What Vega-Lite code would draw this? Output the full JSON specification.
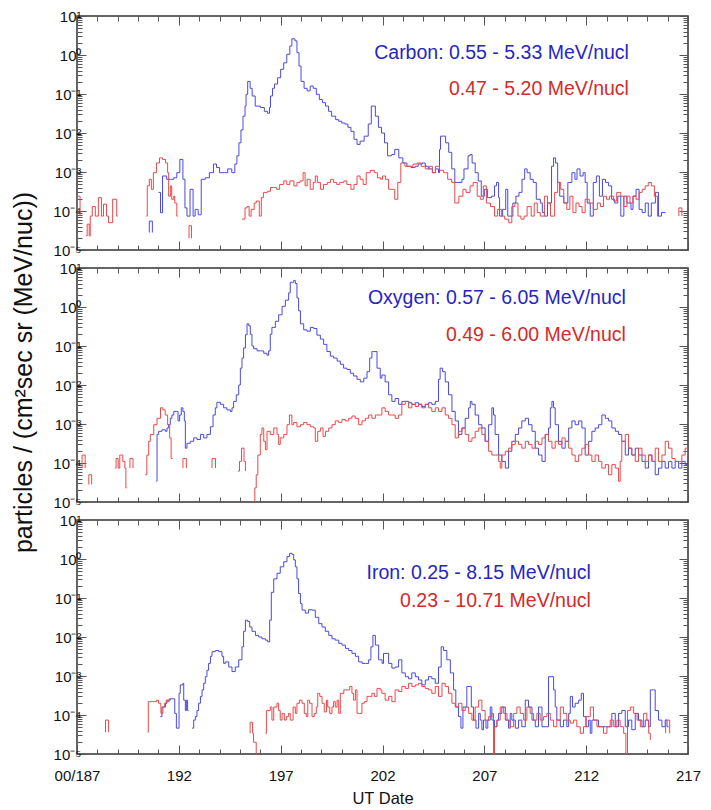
{
  "$schema": "https://vega.github.io/schema/vega-lite/v6.json",
  "background": "white",
  "padding": {"left": 11, "top": 8, "right": 0, "bottom": 0},
  "spacing": 18,
  "bounds": "flush",
  "config": {
    "view": {"stroke": "#333", "strokeWidth": 1.5},
    "axis": {
      "domain": false,
      "grid": false,
      "tickColor": "#555",
      "tickWidth": 1,
      "labelFont": "Liberation Sans",
      "labelColor": "#111",
      "titleFont": "Liberation Sans",
      "titleColor": "#111",
      "titleFontWeight": "normal",
      "labelOverlap": false,
      "labelFlush": false,
      "labelBound": false
    },
    "axisX": {
      "labelFontSize": 15,
      "labelPadding": 23,
      "labelOverlap": false,
      "titleFontSize": 16.5,
      "titlePadding": 7
    },
    "axisY": {
      "values": [0.00001,0.00002,0.00003,0.00004,0.00005,0.00006,0.00007,0.00008,0.00009,0.0001,0.0002,0.0003,0.0004,0.0005,0.0006,0.0007,0.0008,0.0009,0.001,0.002,0.003,0.004,0.005,0.006,0.007,0.008,0.009,0.01,0.02,0.03,0.04,0.05,0.06,0.07,0.08,0.09,0.1,0.2,0.3,0.4,0.5,0.6,0.7,0.8,0.9,1,2,3,4,5,6,7,8,9,10],
      "tickSize": {"condition": {"test": "abs(log(datum.value) / LN10 - round(log(datum.value) / LN10)) < 0.000001", "value": -9}, "value": -5},
      "labelFontSize": 15,
      "labelPadding": 5,
      "labelOverlap": false,
      "labelExpr": "datum.value == 10 ? '10¹' : datum.value == 1 ? '10⁰' : datum.value == 0.1 ? '10⁻¹' : datum.value == 0.01 ? '10⁻²' : datum.value == 0.001 ? '10⁻³' : datum.value == 0.0001 ? '10⁻⁴' : datum.value == 0.00001 ? '10⁻⁵' : ''",
      "titleFontSize": 25,
      "titlePadding": 16
    },
    "line": {"strokeWidth": 1, "interpolate": "step-after", "clip": true, "invalid": "break-paths-filter-domains"},
    "text": {"font": "Liberation Sans", "fontSize": 19.5, "align": "right", "baseline": "alphabetic"}
  },
  "datasets": {
    "carbon_a": [
      {"day":190.55,"flux":2.8e-5},{"day":190.55,"flux":5.5e-5},{"day":190.7,"flux":2.8e-5},{"day":190.8,"flux":null},
      {"day":191.0,"flux":3.0e-4},{"day":191.1,"flux":9e-5},{"day":191.2,"flux":7.9e-4},{"day":191.4,"flux":6.5e-4},{"day":191.6,"flux":6.5e-4},{"day":191.75,"flux":7.1e-4},{"day":191.9,"flux":9.6e-4},{"day":192.05,"flux":2.1e-3},{"day":192.2,"flux":6.5e-4},{"day":192.3,"flux":1.2e-4},{"day":192.4,"flux":7.4e-5},{"day":192.55,"flux":3.6e-4},{"day":192.7,"flux":7.4e-5},{"day":192.8,"flux":1.1e-4},{"day":192.95,"flux":8e-5},{"day":193.1,"flux":6.5e-4},{"day":193.3,"flux":7.1e-4},{"day":193.5,"flux":9.6e-4},{"day":193.7,"flux":1.6e-3},{"day":193.85,"flux":1.3e-3},{"day":194.0,"flux":9.6e-4},{"day":194.25,"flux":9.6e-4},{"day":194.4,"flux":1.2e-3},{"day":194.6,"flux":9.6e-4},{"day":194.75,"flux":1.6e-3},{"day":194.85,"flux":2.6e-3},{"day":194.95,"flux":5.6e-3},{"day":195.05,"flux":0.012},{"day":195.15,"flux":0.027},{"day":195.25,"flux":0.049},{"day":195.3,"flux":0.098},{"day":195.38,"flux":0.21},{"day":195.5,"flux":0.14},{"day":195.6,"flux":0.089},{"day":195.75,"flux":0.049},{"day":196.0,"flux":0.045},{"day":196.2,"flux":0.036},{"day":196.35,"flux":0.032},{"day":196.45,"flux":0.045},{"day":196.5,"flux":0.089},{"day":196.6,"flux":0.14},{"day":196.7,"flux":0.18},{"day":196.85,"flux":0.26},{"day":197.0,"flux":0.43},{"day":197.15,"flux":0.63},{"day":197.3,"flux":1.04},{"day":197.45,"flux":1.7},{"day":197.55,"flux":2.6},{"day":197.7,"flux":2.3},{"day":197.8,"flux":1.15},{"day":197.9,"flux":0.52},{"day":198.0,"flux":0.21},{"day":198.15,"flux":0.14},{"day":198.3,"flux":0.12},{"day":198.45,"flux":0.16},{"day":198.6,"flux":0.14},{"day":198.75,"flux":0.098},{"day":198.9,"flux":0.072},{"day":199.05,"flux":0.06},{"day":199.2,"flux":0.049},{"day":199.35,"flux":0.036},{"day":199.5,"flux":0.027},{"day":199.7,"flux":0.022},{"day":199.85,"flux":0.02},{"day":200.0,"flux":0.018},{"day":200.15,"flux":0.017},{"day":200.3,"flux":0.014},{"day":200.45,"flux":0.011},{"day":200.6,"flux":0.0069},{"day":200.75,"flux":0.0051},{"day":200.9,"flux":0.0062},{"day":201.1,"flux":0.0083},{"day":201.3,"flux":0.017},{"day":201.45,"flux":0.049},{"day":201.55,"flux":0.049},{"day":201.65,"flux":0.027},{"day":201.8,"flux":0.014},{"day":201.95,"flux":0.01},{"day":202.1,"flux":0.0056},{"day":202.25,"flux":0.0026},{"day":202.45,"flux":0.0028},{"day":202.6,"flux":0.0038},{"day":202.8,"flux":0.0023},{"day":203.0,"flux":0.0017},{"day":203.2,"flux":0.0014},{"day":203.4,"flux":0.0013},{"day":203.6,"flux":0.0014},{"day":203.75,"flux":0.0016},{"day":203.95,"flux":0.0017},{"day":204.1,"flux":0.0014},{"day":204.25,"flux":0.0012},{"day":204.45,"flux":9.6e-4},{"day":204.6,"flux":0.0012},{"day":204.75,"flux":9.6e-4},{"day":204.8,"flux":0.0038},{"day":204.85,"flux":0.0083},{"day":205.0,"flux":0.0083},{"day":205.1,"flux":0.0056},{"day":205.25,"flux":0.0032},{"day":205.4,"flux":0.0012},{"day":205.55,"flux":5.4e-4},{"day":205.75,"flux":5.4e-4},{"day":205.9,"flux":6.5e-4},{"day":206.0,"flux":0.0012},{"day":206.2,"flux":0.0026},{"day":206.3,"flux":0.0028},{"day":206.4,"flux":0.0017},{"day":206.55,"flux":9.6e-4},{"day":206.7,"flux":5.9e-4},{"day":206.85,"flux":2.4e-4},{"day":207.0,"flux":3.6e-4},{"day":207.15,"flux":2.2e-4},{"day":207.35,"flux":2.4e-4},{"day":207.5,"flux":4.4e-4},{"day":207.6,"flux":5.4e-4},{"day":207.7,"flux":2.2e-4},{"day":207.75,"flux":7.4e-5},{"day":207.9,"flux":1.1e-4},{"day":208.05,"flux":3.6e-4},{"day":208.15,"flux":7.4e-5},{"day":208.4,"flux":1.6e-4},{"day":208.55,"flux":2.4e-4},{"day":208.7,"flux":3.0e-4},{"day":208.85,"flux":6.5e-4},{"day":208.98,"flux":0.0012},{"day":209.1,"flux":9.6e-4},{"day":209.25,"flux":6.5e-4},{"day":209.4,"flux":5.4e-4},{"day":209.55,"flux":2.0e-4},{"day":209.75,"flux":1.6e-4},{"day":209.85,"flux":9.1e-5},{"day":209.95,"flux":7.4e-5},{"day":210.1,"flux":1.6e-4},{"day":210.3,"flux":0.0014},{"day":210.4,"flux":0.0023},{"day":210.5,"flux":0.0017},{"day":210.6,"flux":5.4e-4},{"day":210.7,"flux":2.4e-4},{"day":210.9,"flux":1.6e-4},{"day":211.1,"flux":5.4e-4},{"day":211.3,"flux":9.6e-4},{"day":211.45,"flux":6.5e-4},{"day":211.55,"flux":0.0012},{"day":211.7,"flux":7.9e-4},{"day":211.85,"flux":9.6e-4},{"day":211.95,"flux":5.4e-4},{"day":212.05,"flux":1.6e-4},{"day":212.2,"flux":7.4e-5},{"day":212.35,"flux":5.4e-4},{"day":212.5,"flux":7.9e-4},{"day":212.65,"flux":2.4e-4},{"day":212.8,"flux":6.5e-4},{"day":212.95,"flux":5.4e-4},{"day":213.1,"flux":4.4e-4},{"day":213.25,"flux":2.0e-4},{"day":213.4,"flux":1.6e-4},{"day":213.55,"flux":2.4e-4},{"day":213.7,"flux":7.4e-5},{"day":213.85,"flux":2.4e-4},{"day":214.0,"flux":1.6e-4},{"day":214.2,"flux":1.1e-4},{"day":214.3,"flux":2.4e-4},{"day":214.45,"flux":3.6e-4},{"day":214.6,"flux":1.1e-4},{"day":214.75,"flux":9.1e-5},{"day":214.9,"flux":1.6e-4},{"day":215.05,"flux":7.4e-5},{"day":215.2,"flux":1.6e-4},{"day":215.4,"flux":3.0e-4},{"day":215.55,"flux":7.4e-5},{"day":215.7,"flux":9.1e-5},{"day":215.9,"flux":9.1e-5}
    ],
    "carbon_b": [
      {"day":187.0,"flux":7.4e-5},{"day":187.0,"flux":2.4e-4},{"day":187.15,"flux":7.4e-5},{"day":187.2,"flux":null},
      {"day":187.45,"flux":2.3e-5},{"day":187.5,"flux":4.6e-5},{"day":187.6,"flux":2.3e-5},{"day":187.65,"flux":7.4e-5},{"day":187.75,"flux":1.3e-4},{"day":187.9,"flux":7.4e-5},{"day":188.05,"flux":2.2e-4},{"day":188.2,"flux":7.4e-5},{"day":188.3,"flux":1.5e-4},{"day":188.45,"flux":7.4e-5},{"day":188.55,"flux":5.0e-5},{"day":188.75,"flux":2.0e-4},{"day":188.95,"flux":7.4e-5},{"day":189.0,"flux":7.4e-5},{"day":189.05,"flux":null},
      {"day":190.4,"flux":7.4e-5},{"day":190.45,"flux":4.4e-4},{"day":190.55,"flux":6.5e-4},{"day":190.65,"flux":3.6e-4},{"day":190.75,"flux":9.6e-4},{"day":190.9,"flux":1.7e-3},{"day":191.05,"flux":2.3e-3},{"day":191.2,"flux":2.1e-3},{"day":191.35,"flux":1.7e-3},{"day":191.45,"flux":9.6e-4},{"day":191.5,"flux":2.4e-4},{"day":191.6,"flux":4.4e-4},{"day":191.65,"flux":2.0e-4},{"day":191.75,"flux":2.4e-4},{"day":191.8,"flux":1.6e-4},{"day":191.9,"flux":7.4e-5},{"day":191.95,"flux":7.4e-5},{"day":192.0,"flux":null},
      {"day":192.5,"flux":2.0e-5},{"day":192.5,"flux":4.2e-5},{"day":192.62,"flux":2.0e-5},{"day":192.7,"flux":null},
      {"day":195.1,"flux":6.2e-5},{"day":195.25,"flux":1.2e-4},{"day":195.35,"flux":1.3e-4},{"day":195.45,"flux":7.4e-5},{"day":195.55,"flux":1.1e-4},{"day":195.7,"flux":1.6e-4},{"day":195.8,"flux":1.8e-4},{"day":195.95,"flux":7.4e-5},{"day":196.05,"flux":2.2e-4},{"day":196.15,"flux":3.0e-4},{"day":196.35,"flux":3.2e-4},{"day":196.5,"flux":4.0e-4},{"day":196.65,"flux":4.0e-4},{"day":196.8,"flux":3.6e-4},{"day":196.95,"flux":4.8e-4},{"day":197.15,"flux":5.9e-4},{"day":197.3,"flux":4.8e-4},{"day":197.45,"flux":5.9e-4},{"day":197.65,"flux":4.4e-4},{"day":197.8,"flux":5.4e-4},{"day":197.95,"flux":5.9e-4},{"day":198.1,"flux":9.6e-4},{"day":198.2,"flux":4.4e-4},{"day":198.3,"flux":6.5e-4},{"day":198.45,"flux":3.6e-4},{"day":198.6,"flux":5.4e-4},{"day":198.7,"flux":7.9e-4},{"day":198.8,"flux":5.4e-4},{"day":198.95,"flux":3.6e-4},{"day":199.1,"flux":4.8e-4},{"day":199.3,"flux":5.4e-4},{"day":199.45,"flux":6.5e-4},{"day":199.6,"flux":5.4e-4},{"day":199.75,"flux":4.8e-4},{"day":199.9,"flux":5.4e-4},{"day":200.1,"flux":5.9e-4},{"day":200.25,"flux":4.8e-4},{"day":200.45,"flux":3.6e-4},{"day":200.6,"flux":4.8e-4},{"day":200.75,"flux":7.9e-4},{"day":200.9,"flux":6.5e-4},{"day":201.05,"flux":4.8e-4},{"day":201.2,"flux":9.6e-4},{"day":201.4,"flux":1.1e-3},{"day":201.6,"flux":9.6e-4},{"day":201.75,"flux":7.1e-4},{"day":201.9,"flux":6.5e-4},{"day":202.0,"flux":7.9e-4},{"day":202.15,"flux":6.5e-4},{"day":202.3,"flux":3.6e-4},{"day":202.6,"flux":2.0e-4},{"day":202.75,"flux":5.4e-4},{"day":202.9,"flux":1.7e-3},{"day":203.1,"flux":1.4e-3},{"day":203.3,"flux":1.4e-3},{"day":203.5,"flux":1.6e-3},{"day":203.7,"flux":1.7e-3},{"day":203.9,"flux":1.4e-3},{"day":204.1,"flux":1.2e-3},{"day":204.3,"flux":1.4e-3},{"day":204.45,"flux":9.6e-4},{"day":204.6,"flux":1.4e-3},{"day":204.8,"flux":1.1e-3},{"day":205.0,"flux":9.6e-4},{"day":205.2,"flux":6.5e-4},{"day":205.4,"flux":5.4e-4},{"day":205.55,"flux":1.6e-4},{"day":205.75,"flux":2.4e-4},{"day":205.95,"flux":3.6e-4},{"day":206.1,"flux":3.0e-4},{"day":206.3,"flux":4.4e-4},{"day":206.45,"flux":5.4e-4},{"day":206.65,"flux":2.4e-4},{"day":206.8,"flux":2.0e-4},{"day":206.95,"flux":4.4e-4},{"day":207.1,"flux":1.6e-4},{"day":207.3,"flux":1.3e-4},{"day":207.5,"flux":7.4e-5},{"day":207.65,"flux":1.1e-4},{"day":207.85,"flux":7.4e-5},{"day":208.0,"flux":6.2e-5},{"day":208.2,"flux":5.0e-5},{"day":208.35,"flux":1.3e-4},{"day":208.5,"flux":1.6e-4},{"day":208.65,"flux":7.4e-5},{"day":208.8,"flux":6.2e-5},{"day":208.95,"flux":7.4e-5},{"day":209.1,"flux":1.3e-4},{"day":209.3,"flux":7.4e-5},{"day":209.45,"flux":1.6e-4},{"day":209.6,"flux":9.1e-5},{"day":209.75,"flux":7.4e-5},{"day":209.95,"flux":2.4e-4},{"day":210.1,"flux":1.6e-4},{"day":210.25,"flux":7.4e-5},{"day":210.45,"flux":3.0e-4},{"day":210.6,"flux":5.4e-4},{"day":210.75,"flux":3.6e-4},{"day":210.9,"flux":1.6e-4},{"day":211.05,"flux":1.1e-4},{"day":211.2,"flux":2.4e-4},{"day":211.35,"flux":9.1e-5},{"day":211.5,"flux":1.6e-4},{"day":211.65,"flux":1.3e-4},{"day":211.8,"flux":9.1e-5},{"day":211.95,"flux":2.0e-4},{"day":212.15,"flux":1.6e-4},{"day":212.35,"flux":1.1e-4},{"day":212.55,"flux":1.6e-4},{"day":212.7,"flux":1.3e-4},{"day":212.85,"flux":2.4e-4},{"day":213.0,"flux":2.0e-4},{"day":213.15,"flux":2.4e-4},{"day":213.35,"flux":1.8e-4},{"day":213.5,"flux":3.0e-4},{"day":213.7,"flux":2.4e-4},{"day":213.85,"flux":1.3e-4},{"day":214.0,"flux":2.4e-4},{"day":214.15,"flux":1.6e-4},{"day":214.3,"flux":2.4e-4},{"day":214.45,"flux":2.0e-4},{"day":214.6,"flux":3.0e-4},{"day":214.75,"flux":3.6e-4},{"day":214.9,"flux":4.4e-4},{"day":215.05,"flux":5.4e-4},{"day":215.2,"flux":4.4e-4},{"day":215.35,"flux":2.4e-4},{"day":215.5,"flux":7.4e-5},{"day":215.55,"flux":7.4e-5},{"day":215.6,"flux":null},
      {"day":216.55,"flux":7.4e-5},{"day":216.55,"flux":1.2e-4},{"day":216.7,"flux":7.4e-5}
    ],
    "oxygen_a": [
      {"day":190.9,"flux":3.4e-5},{"day":190.93,"flux":5.4e-4},{"day":191.01,"flux":6.5e-4},{"day":191.17,"flux":7.1e-4},{"day":191.34,"flux":6.5e-4},{"day":191.42,"flux":7.9e-4},{"day":191.5,"flux":9.6e-4},{"day":191.58,"flux":1.4e-3},{"day":191.66,"flux":1.7e-3},{"day":191.75,"flux":2.1e-3},{"day":191.88,"flux":2.1e-3},{"day":191.96,"flux":1.2e-3},{"day":192.04,"flux":1.7e-3},{"day":192.12,"flux":2.6e-3},{"day":192.2,"flux":2.1e-3},{"day":192.27,"flux":1.2e-3},{"day":192.32,"flux":2.4e-4},{"day":192.4,"flux":3.2e-4},{"day":192.56,"flux":3.6e-4},{"day":192.73,"flux":4.4e-4},{"day":192.89,"flux":4.0e-4},{"day":193.06,"flux":5.4e-4},{"day":193.22,"flux":4.4e-4},{"day":193.38,"flux":5.4e-4},{"day":193.55,"flux":8.5e-4},{"day":193.68,"flux":1.7e-3},{"day":193.79,"flux":2.6e-3},{"day":193.87,"flux":3.6e-3},{"day":194.04,"flux":3.2e-3},{"day":194.2,"flux":2.6e-3},{"day":194.36,"flux":2.3e-3},{"day":194.53,"flux":2.1e-3},{"day":194.61,"flux":2.6e-3},{"day":194.69,"flux":3.8e-3},{"day":194.82,"flux":5.6e-3},{"day":194.94,"flux":0.01},{"day":195.02,"flux":0.027},{"day":195.1,"flux":0.049},{"day":195.18,"flux":0.089},{"day":195.27,"flux":0.195},{"day":195.35,"flux":0.37},{"day":195.43,"flux":0.33},{"day":195.51,"flux":0.2},{"day":195.59,"flux":0.1},{"day":195.67,"flux":0.085},{"day":195.84,"flux":0.075},{"day":196.0,"flux":0.075},{"day":196.17,"flux":0.065},{"day":196.33,"flux":0.058},{"day":196.41,"flux":0.075},{"day":196.49,"flux":0.2},{"day":196.57,"flux":0.3},{"day":196.74,"flux":0.43},{"day":196.9,"flux":0.63},{"day":197.07,"flux":1.04},{"day":197.23,"flux":1.5},{"day":197.39,"flux":2.3},{"day":197.47,"flux":4.3},{"day":197.64,"flux":4.8},{"day":197.72,"flux":4.0},{"day":197.8,"flux":1.7},{"day":197.88,"flux":0.8},{"day":197.97,"flux":0.37},{"day":198.13,"flux":0.26},{"day":198.29,"flux":0.24},{"day":198.46,"flux":0.3},{"day":198.62,"flux":0.28},{"day":198.78,"flux":0.19},{"day":198.95,"flux":0.15},{"day":199.11,"flux":0.11},{"day":199.27,"flux":0.072},{"day":199.44,"flux":0.055},{"day":199.6,"flux":0.049},{"day":199.77,"flux":0.041},{"day":199.93,"flux":0.034},{"day":200.09,"flux":0.027},{"day":200.26,"flux":0.025},{"day":200.42,"flux":0.02},{"day":200.58,"flux":0.017},{"day":200.75,"flux":0.014},{"day":200.91,"flux":0.012},{"day":201.08,"flux":0.015},{"day":201.24,"flux":0.022},{"day":201.37,"flux":0.049},{"day":201.48,"flux":0.072},{"day":201.57,"flux":0.072},{"day":201.73,"flux":0.027},{"day":201.89,"flux":0.015},{"day":201.97,"flux":0.018},{"day":202.13,"flux":0.012},{"day":202.3,"flux":0.0056},{"day":202.46,"flux":0.0038},{"day":202.62,"flux":0.0045},{"day":202.79,"flux":0.0032},{"day":202.95,"flux":0.0038},{"day":203.12,"flux":0.0038},{"day":203.28,"flux":0.0035},{"day":203.44,"flux":0.0032},{"day":203.61,"flux":0.0035},{"day":203.77,"flux":0.0032},{"day":203.93,"flux":0.0028},{"day":204.1,"flux":0.0032},{"day":204.26,"flux":0.0035},{"day":204.42,"flux":0.0032},{"day":204.59,"flux":0.0038},{"day":204.75,"flux":0.014},{"day":204.83,"flux":0.027},{"day":204.95,"flux":0.022},{"day":205.08,"flux":0.012},{"day":205.24,"flux":0.0056},{"day":205.41,"flux":0.0021},{"day":205.57,"flux":0.0012},{"day":205.73,"flux":5.4e-4},{"day":205.9,"flux":7.9e-4},{"day":206.06,"flux":0.0014},{"day":206.23,"flux":0.0026},{"day":206.31,"flux":0.0038},{"day":206.39,"flux":0.0032},{"day":206.55,"flux":0.0017},{"day":206.72,"flux":9.6e-4},{"day":206.88,"flux":7.9e-4},{"day":207.04,"flux":3.6e-4},{"day":207.21,"flux":9.6e-4},{"day":207.37,"flux":0.0026},{"day":207.45,"flux":0.0017},{"day":207.53,"flux":5.4e-4},{"day":207.7,"flux":1.6e-4},{"day":207.86,"flux":1.1e-4},{"day":208.03,"flux":7.4e-5},{"day":208.19,"flux":2.0e-4},{"day":208.35,"flux":3.6e-4},{"day":208.52,"flux":5.4e-4},{"day":208.68,"flux":7.9e-4},{"day":208.84,"flux":0.0012},{"day":209.01,"flux":0.0014},{"day":209.17,"flux":9.6e-4},{"day":209.34,"flux":6.5e-4},{"day":209.5,"flux":2.4e-4},{"day":209.66,"flux":1.6e-4},{"day":209.83,"flux":1.1e-4},{"day":209.99,"flux":5.4e-4},{"day":210.15,"flux":7.9e-4},{"day":210.24,"flux":0.0026},{"day":210.32,"flux":0.0038},{"day":210.4,"flux":0.0026},{"day":210.48,"flux":9.6e-4},{"day":210.64,"flux":3.6e-4},{"day":210.81,"flux":2.4e-4},{"day":210.97,"flux":3.6e-4},{"day":211.14,"flux":7.9e-4},{"day":211.3,"flux":0.0012},{"day":211.46,"flux":9.6e-4},{"day":211.63,"flux":0.0012},{"day":211.79,"flux":7.9e-4},{"day":211.95,"flux":1.6e-4},{"day":212.12,"flux":3.6e-4},{"day":212.28,"flux":6.5e-4},{"day":212.44,"flux":7.9e-4},{"day":212.61,"flux":9.6e-4},{"day":212.77,"flux":0.0017},{"day":212.94,"flux":0.0014},{"day":213.1,"flux":0.0012},{"day":213.26,"flux":7.9e-4},{"day":213.43,"flux":6.5e-4},{"day":213.59,"flux":5.4e-4},{"day":213.75,"flux":3.6e-4},{"day":213.92,"flux":1.6e-4},{"day":214.08,"flux":2.4e-4},{"day":214.24,"flux":1.6e-4},{"day":214.41,"flux":2.4e-4},{"day":214.57,"flux":1.6e-4},{"day":214.74,"flux":1.1e-4},{"day":214.9,"flux":7.4e-5},{"day":215.06,"flux":1.6e-4},{"day":215.23,"flux":1.1e-4},{"day":215.39,"flux":5.0e-5},{"day":215.55,"flux":7.4e-5},{"day":215.72,"flux":1.1e-4},{"day":215.88,"flux":7.4e-5},{"day":216.04,"flux":1.1e-4},{"day":216.21,"flux":7.4e-5},{"day":216.37,"flux":1.1e-4},{"day":216.54,"flux":7.4e-5},{"day":216.7,"flux":1.1e-4},{"day":216.86,"flux":9.1e-5},{"day":217.0,"flux":9.1e-5}
    ],
    "oxygen_b": [
      {"day":187.25,"flux":7.4e-5},{"day":187.25,"flux":1.6e-4},{"day":187.4,"flux":7.4e-5},{"day":187.45,"flux":null},
      {"day":187.58,"flux":2.8e-5},{"day":187.58,"flux":5.0e-5},{"day":187.72,"flux":2.8e-5},{"day":187.75,"flux":null},
      {"day":188.88,"flux":7.4e-5},{"day":188.92,"flux":1.3e-4},{"day":189.02,"flux":7.4e-5},{"day":189.1,"flux":1.6e-4},{"day":189.25,"flux":1.1e-4},{"day":189.35,"flux":7.4e-5},{"day":189.4,"flux":2.3e-5},{"day":189.45,"flux":2.3e-5},{"day":189.5,"flux":null},
      {"day":189.6,"flux":7.4e-5},{"day":189.6,"flux":1.3e-4},{"day":189.75,"flux":7.4e-5},{"day":189.8,"flux":null},
      {"day":190.35,"flux":5.0e-5},{"day":190.43,"flux":1.6e-4},{"day":190.52,"flux":3.6e-4},{"day":190.6,"flux":5.4e-4},{"day":190.77,"flux":9.6e-4},{"day":190.93,"flux":1.4e-3},{"day":191.1,"flux":2.6e-3},{"day":191.22,"flux":2.3e-3},{"day":191.33,"flux":1.7e-3},{"day":191.45,"flux":9.6e-4},{"day":191.55,"flux":4.4e-4},{"day":191.62,"flux":1.3e-4},{"day":191.7,"flux":1.3e-4},{"day":191.75,"flux":null},
      {"day":192.2,"flux":7.4e-5},{"day":192.2,"flux":1.3e-4},{"day":192.37,"flux":7.4e-5},{"day":192.4,"flux":null},
      {"day":193.63,"flux":7.4e-5},{"day":193.63,"flux":1.3e-4},{"day":193.8,"flux":7.4e-5},{"day":193.85,"flux":null},
      {"day":194.9,"flux":6.2e-5},{"day":194.98,"flux":1.1e-4},{"day":195.08,"flux":2.4e-4},{"day":195.2,"flux":1.1e-4},{"day":195.27,"flux":6.2e-5},{"day":195.3,"flux":null},
      {"day":195.7,"flux":5e-6},{"day":195.73,"flux":2.3e-5},{"day":195.8,"flux":5.0e-5},{"day":195.88,"flux":1.6e-4},{"day":196.0,"flux":5.4e-4},{"day":196.08,"flux":7.9e-4},{"day":196.17,"flux":3.6e-4},{"day":196.25,"flux":2.2e-4},{"day":196.33,"flux":6.5e-4},{"day":196.49,"flux":5.4e-4},{"day":196.66,"flux":7.9e-4},{"day":196.82,"flux":5.4e-4},{"day":196.9,"flux":3.0e-4},{"day":196.98,"flux":4.4e-4},{"day":197.15,"flux":5.4e-4},{"day":197.31,"flux":9.6e-4},{"day":197.43,"flux":1.7e-3},{"day":197.55,"flux":9.6e-4},{"day":197.64,"flux":1.1e-3},{"day":197.8,"flux":8.5e-4},{"day":197.97,"flux":9.6e-4},{"day":198.13,"flux":1.1e-3},{"day":198.29,"flux":9.6e-4},{"day":198.46,"flux":8.5e-4},{"day":198.62,"flux":7.9e-4},{"day":198.7,"flux":3.6e-4},{"day":198.82,"flux":6.5e-4},{"day":198.95,"flux":7.9e-4},{"day":199.08,"flux":4.8e-4},{"day":199.2,"flux":6.5e-4},{"day":199.36,"flux":7.9e-4},{"day":199.52,"flux":9.6e-4},{"day":199.68,"flux":1.2e-3},{"day":199.85,"flux":1.1e-3},{"day":200.01,"flux":1.3e-3},{"day":200.17,"flux":1.2e-3},{"day":200.34,"flux":1.4e-3},{"day":200.5,"flux":1.6e-3},{"day":200.66,"flux":1.4e-3},{"day":200.83,"flux":9.6e-4},{"day":200.99,"flux":1.2e-3},{"day":201.16,"flux":1.4e-3},{"day":201.32,"flux":1.7e-3},{"day":201.48,"flux":1.4e-3},{"day":201.65,"flux":1.7e-3},{"day":201.81,"flux":1.7e-3},{"day":201.97,"flux":2.6e-3},{"day":202.13,"flux":2.1e-3},{"day":202.3,"flux":1.7e-3},{"day":202.46,"flux":1.7e-3},{"day":202.62,"flux":1.4e-3},{"day":202.79,"flux":1.7e-3},{"day":202.95,"flux":3.2e-3},{"day":203.12,"flux":3.8e-3},{"day":203.28,"flux":2.6e-3},{"day":203.44,"flux":3.2e-3},{"day":203.61,"flux":2.8e-3},{"day":203.77,"flux":3.2e-3},{"day":203.93,"flux":2.6e-3},{"day":204.1,"flux":3.2e-3},{"day":204.26,"flux":2.6e-3},{"day":204.42,"flux":2.1e-3},{"day":204.59,"flux":2.6e-3},{"day":204.75,"flux":2.1e-3},{"day":204.92,"flux":2.6e-3},{"day":205.08,"flux":1.7e-3},{"day":205.24,"flux":1.4e-3},{"day":205.41,"flux":9.6e-4},{"day":205.57,"flux":4.4e-4},{"day":205.73,"flux":6.5e-4},{"day":205.9,"flux":7.9e-4},{"day":206.06,"flux":5.4e-4},{"day":206.23,"flux":3.6e-4},{"day":206.39,"flux":4.4e-4},{"day":206.55,"flux":6.5e-4},{"day":206.72,"flux":7.9e-4},{"day":206.88,"flux":5.4e-4},{"day":207.04,"flux":3.6e-4},{"day":207.21,"flux":2.0e-4},{"day":207.37,"flux":1.6e-4},{"day":207.53,"flux":1.6e-4},{"day":207.7,"flux":1.1e-4},{"day":207.78,"flux":7.4e-5},{"day":207.86,"flux":1.6e-4},{"day":208.03,"flux":2.0e-4},{"day":208.19,"flux":2.4e-4},{"day":208.35,"flux":3.0e-4},{"day":208.52,"flux":3.6e-4},{"day":208.68,"flux":3.0e-4},{"day":208.84,"flux":2.4e-4},{"day":209.01,"flux":3.6e-4},{"day":209.17,"flux":3.0e-4},{"day":209.34,"flux":2.4e-4},{"day":209.5,"flux":3.6e-4},{"day":209.66,"flux":3.0e-4},{"day":209.83,"flux":4.4e-4},{"day":209.99,"flux":5.4e-4},{"day":210.15,"flux":3.6e-4},{"day":210.32,"flux":2.4e-4},{"day":210.48,"flux":3.6e-4},{"day":210.64,"flux":3.0e-4},{"day":210.81,"flux":4.4e-4},{"day":210.97,"flux":3.6e-4},{"day":211.14,"flux":2.4e-4},{"day":211.3,"flux":1.6e-4},{"day":211.46,"flux":1.1e-4},{"day":211.63,"flux":1.6e-4},{"day":211.79,"flux":2.4e-4},{"day":211.95,"flux":3.0e-4},{"day":212.12,"flux":1.6e-4},{"day":212.28,"flux":1.1e-4},{"day":212.44,"flux":1.6e-4},{"day":212.61,"flux":1.1e-4},{"day":212.77,"flux":7.4e-5},{"day":212.94,"flux":9.1e-5},{"day":213.1,"flux":5.0e-5},{"day":213.26,"flux":9.1e-5},{"day":213.43,"flux":7.4e-5},{"day":213.59,"flux":3.4e-5},{"day":213.67,"flux":1.1e-4},{"day":213.75,"flux":3.6e-4},{"day":213.92,"flux":5.4e-4},{"day":214.08,"flux":2.4e-4},{"day":214.24,"flux":1.6e-4},{"day":214.41,"flux":1.1e-4},{"day":214.57,"flux":2.4e-4},{"day":214.74,"flux":1.6e-4},{"day":214.9,"flux":1.1e-4},{"day":215.06,"flux":1.6e-4},{"day":215.23,"flux":1.1e-4},{"day":215.39,"flux":2.4e-4},{"day":215.55,"flux":1.1e-4},{"day":215.72,"flux":1.6e-4},{"day":215.88,"flux":3.6e-4},{"day":216.04,"flux":2.4e-4},{"day":216.21,"flux":1.3e-4},{"day":216.37,"flux":1.1e-4},{"day":216.54,"flux":1.1e-4},{"day":216.7,"flux":1.6e-4},{"day":216.86,"flux":2.4e-4},{"day":217.0,"flux":1.6e-4}
    ],
    "iron_a": [
      {"day":191.09,"flux":9.1e-5},{"day":191.17,"flux":1.6e-4},{"day":191.34,"flux":2.0e-4},{"day":191.42,"flux":2.4e-4},{"day":191.58,"flux":2.6e-4},{"day":191.71,"flux":2.6e-4},{"day":191.8,"flux":1.1e-4},{"day":191.88,"flux":4.6e-5},{"day":191.96,"flux":4.6e-5},{"day":192.01,"flux":3.6e-4},{"day":192.07,"flux":5.9e-4},{"day":192.2,"flux":6.5e-4},{"day":192.24,"flux":2.4e-4},{"day":192.32,"flux":1.3e-4},{"day":192.37,"flux":2.4e-4},{"day":192.43,"flux":1.3e-4},{"day":192.48,"flux":1.3e-4},{"day":192.5,"flux":null},
      {"day":192.65,"flux":4.6e-5},{"day":192.73,"flux":7.4e-5},{"day":192.81,"flux":9.1e-5},{"day":192.89,"flux":1.3e-4},{"day":192.97,"flux":2.0e-4},{"day":193.06,"flux":3.0e-4},{"day":193.14,"flux":4.4e-4},{"day":193.22,"flux":6.5e-4},{"day":193.3,"flux":9.6e-4},{"day":193.38,"flux":1.4e-3},{"day":193.46,"flux":2.1e-3},{"day":193.55,"flux":3.2e-3},{"day":193.63,"flux":4.2e-3},{"day":193.79,"flux":4.5e-3},{"day":193.96,"flux":4.2e-3},{"day":194.12,"flux":3.2e-3},{"day":194.2,"flux":2.1e-3},{"day":194.28,"flux":2.3e-3},{"day":194.45,"flux":1.7e-3},{"day":194.61,"flux":1.3e-3},{"day":194.77,"flux":1.7e-3},{"day":194.94,"flux":2.6e-3},{"day":195.1,"flux":5.6e-3},{"day":195.18,"flux":0.014},{"day":195.27,"flux":0.027},{"day":195.38,"flux":0.025},{"day":195.48,"flux":0.018},{"day":195.59,"flux":0.014},{"day":195.76,"flux":0.011},{"day":195.92,"flux":0.01},{"day":196.08,"flux":0.009},{"day":196.25,"flux":0.0083},{"day":196.36,"flux":0.0075},{"day":196.46,"flux":0.027},{"day":196.54,"flux":0.14},{"day":196.66,"flux":0.31},{"day":196.82,"flux":0.43},{"day":196.98,"flux":0.63},{"day":197.15,"flux":0.85},{"day":197.31,"flux":1.15},{"day":197.44,"flux":1.4},{"day":197.56,"flux":1.3},{"day":197.64,"flux":0.95},{"day":197.72,"flux":0.63},{"day":197.8,"flux":0.31},{"day":197.88,"flux":0.13},{"day":197.97,"flux":0.072},{"day":198.05,"flux":0.049},{"day":198.21,"flux":0.041},{"day":198.37,"flux":0.05},{"day":198.54,"flux":0.049},{"day":198.7,"flux":0.032},{"day":198.87,"flux":0.022},{"day":199.03,"flux":0.018},{"day":199.19,"flux":0.014},{"day":199.36,"flux":0.011},{"day":199.52,"flux":0.009},{"day":199.68,"flux":0.0083},{"day":199.85,"flux":0.0069},{"day":200.01,"flux":0.0062},{"day":200.18,"flux":0.0051},{"day":200.34,"flux":0.0045},{"day":200.5,"flux":0.0038},{"day":200.67,"flux":0.0032},{"day":200.83,"flux":0.0023},{"day":201.0,"flux":0.0021},{"day":201.16,"flux":0.0021},{"day":201.32,"flux":0.0026},{"day":201.43,"flux":0.0056},{"day":201.53,"flux":0.011},{"day":201.65,"flux":0.0062},{"day":201.81,"flux":0.0026},{"day":201.98,"flux":0.0021},{"day":202.05,"flux":0.0038},{"day":202.3,"flux":0.0021},{"day":202.46,"flux":0.0016},{"day":202.62,"flux":0.0017},{"day":202.79,"flux":0.0026},{"day":202.95,"flux":0.0012},{"day":203.12,"flux":9.6e-4},{"day":203.28,"flux":8.5e-4},{"day":203.44,"flux":0.0012},{"day":203.61,"flux":9.6e-4},{"day":203.77,"flux":7.9e-4},{"day":203.93,"flux":5.9e-4},{"day":204.1,"flux":7.9e-4},{"day":204.26,"flux":9.6e-4},{"day":204.42,"flux":8.5e-4},{"day":204.59,"flux":6.5e-4},{"day":204.75,"flux":0.0017},{"day":204.88,"flux":0.0056},{"day":205.0,"flux":0.0045},{"day":205.16,"flux":0.0026},{"day":205.33,"flux":0.0012},{"day":205.49,"flux":4.4e-4},{"day":205.6,"flux":1.6e-4},{"day":205.73,"flux":9.1e-5},{"day":205.85,"flux":4.6e-5},{"day":205.95,"flux":1.6e-4},{"day":206.06,"flux":1.6e-4},{"day":206.14,"flux":5.4e-4},{"day":206.26,"flux":5.4e-4},{"day":206.36,"flux":1.6e-4},{"day":206.47,"flux":7.4e-5},{"day":206.59,"flux":4.6e-5},{"day":206.72,"flux":1.1e-4},{"day":206.8,"flux":7.4e-5},{"day":206.88,"flux":4.2e-5},{"day":206.96,"flux":7.4e-5},{"day":207.08,"flux":4.6e-5},{"day":207.17,"flux":7.4e-5},{"day":207.29,"flux":1.6e-4},{"day":207.37,"flux":7.4e-5},{"day":207.5,"flux":5.0e-5},{"day":207.62,"flux":7.4e-5},{"day":207.7,"flux":1.1e-4},{"day":207.86,"flux":1.6e-4},{"day":208.03,"flux":7.4e-5},{"day":208.19,"flux":4.6e-5},{"day":208.27,"flux":1.1e-4},{"day":208.35,"flux":7.4e-5},{"day":208.52,"flux":4.6e-5},{"day":208.68,"flux":7.4e-5},{"day":208.84,"flux":5.0e-5},{"day":209.01,"flux":2.4e-4},{"day":209.17,"flux":1.6e-4},{"day":209.34,"flux":7.4e-5},{"day":209.5,"flux":5.0e-5},{"day":209.66,"flux":1.6e-4},{"day":209.83,"flux":5.0e-5},{"day":209.99,"flux":5.0e-5},{"day":210.15,"flux":9.6e-4},{"day":210.32,"flux":9.6e-4},{"day":210.4,"flux":4.4e-4},{"day":210.48,"flux":1.6e-4},{"day":210.56,"flux":7.4e-5},{"day":210.73,"flux":5.0e-5},{"day":210.89,"flux":7.4e-5},{"day":211.05,"flux":5.0e-5},{"day":211.14,"flux":1.1e-4},{"day":211.22,"flux":3.0e-4},{"day":211.33,"flux":1.6e-4},{"day":211.46,"flux":2.0e-4},{"day":211.63,"flux":2.4e-4},{"day":211.76,"flux":3.6e-4},{"day":211.87,"flux":9.1e-5},{"day":211.99,"flux":5.0e-5},{"day":212.12,"flux":7.4e-5},{"day":212.2,"flux":3.4e-5},{"day":212.28,"flux":7.4e-5},{"day":212.44,"flux":7.4e-5},{"day":212.61,"flux":5.0e-5},{"day":212.77,"flux":5.0e-5},{"day":212.94,"flux":5.0e-5},{"day":213.1,"flux":5.0e-5},{"day":213.26,"flux":1.1e-4},{"day":213.43,"flux":5.0e-5},{"day":213.59,"flux":1.1e-4},{"day":213.75,"flux":1.3e-4},{"day":213.92,"flux":5.0e-5},{"day":214.08,"flux":7.4e-5},{"day":214.24,"flux":4.2e-5},{"day":214.41,"flux":1.1e-4},{"day":214.57,"flux":7.4e-5},{"day":214.74,"flux":5.0e-5},{"day":214.9,"flux":7.4e-5},{"day":215.06,"flux":5.0e-5},{"day":215.15,"flux":4.4e-4},{"day":215.31,"flux":4.4e-4},{"day":215.39,"flux":1.3e-4},{"day":215.55,"flux":7.4e-5},{"day":215.72,"flux":5.0e-5},{"day":215.88,"flux":7.4e-5},{"day":215.97,"flux":5.0e-5},{"day":216.05,"flux":5.0e-5}
    ],
    "iron_b": [
      {"day":188.4,"flux":3.6e-5},{"day":188.4,"flux":7.4e-5},{"day":188.55,"flux":3.6e-5},{"day":188.6,"flux":null},
      {"day":190.47,"flux":3.6e-5},{"day":190.5,"flux":2.2e-4},{"day":190.6,"flux":2.2e-4},{"day":190.75,"flux":2.2e-4},{"day":190.9,"flux":2.4e-4},{"day":191.0,"flux":2.0e-4},{"day":191.12,"flux":1.1e-4},{"day":191.22,"flux":1.6e-4},{"day":191.3,"flux":2.0e-4},{"day":191.38,"flux":2.4e-4},{"day":191.45,"flux":2.2e-4},{"day":191.52,"flux":2.6e-4},{"day":191.58,"flux":2.6e-4},{"day":191.6,"flux":null},
      {"day":195.5,"flux":3.4e-5},{"day":195.5,"flux":6.5e-5},{"day":195.62,"flux":3.4e-5},{"day":195.67,"flux":2.0e-5},{"day":195.8,"flux":5e-6},{"day":195.85,"flux":null},
      {"day":196.25,"flux":3.4e-5},{"day":196.3,"flux":1.3e-4},{"day":196.49,"flux":1.6e-4},{"day":196.57,"flux":7.4e-5},{"day":196.66,"flux":1.6e-4},{"day":196.82,"flux":2.0e-4},{"day":196.9,"flux":1.3e-4},{"day":196.98,"flux":7.4e-5},{"day":197.07,"flux":1.1e-4},{"day":197.18,"flux":7.4e-5},{"day":197.28,"flux":9.1e-5},{"day":197.39,"flux":1.1e-4},{"day":197.47,"flux":7.4e-5},{"day":197.61,"flux":1.6e-4},{"day":197.72,"flux":1.1e-4},{"day":197.8,"flux":2.0e-4},{"day":197.93,"flux":2.4e-4},{"day":198.05,"flux":2.0e-4},{"day":198.16,"flux":1.1e-4},{"day":198.26,"flux":9.1e-5},{"day":198.33,"flux":2.4e-4},{"day":198.42,"flux":2.0e-4},{"day":198.54,"flux":9.1e-5},{"day":198.65,"flux":1.1e-4},{"day":198.75,"flux":1.6e-4},{"day":198.82,"flux":3.6e-4},{"day":198.92,"flux":3.0e-4},{"day":199.03,"flux":2.0e-4},{"day":199.14,"flux":1.2e-4},{"day":199.25,"flux":2.4e-4},{"day":199.31,"flux":1.6e-4},{"day":199.41,"flux":1.1e-4},{"day":199.52,"flux":1.6e-4},{"day":199.6,"flux":2.2e-4},{"day":199.68,"flux":1.6e-4},{"day":199.77,"flux":2.4e-4},{"day":199.85,"flux":1.1e-4},{"day":199.93,"flux":3.6e-4},{"day":200.1,"flux":4.4e-4},{"day":200.26,"flux":4.4e-4},{"day":200.39,"flux":5.4e-4},{"day":200.5,"flux":3.6e-4},{"day":200.58,"flux":2.4e-4},{"day":200.67,"flux":4.4e-4},{"day":200.75,"flux":1.1e-4},{"day":200.88,"flux":1.1e-4},{"day":200.99,"flux":2.0e-4},{"day":201.11,"flux":2.2e-4},{"day":201.24,"flux":3.0e-4},{"day":201.37,"flux":3.0e-4},{"day":201.48,"flux":3.6e-4},{"day":201.6,"flux":3.0e-4},{"day":201.73,"flux":4.8e-4},{"day":201.89,"flux":4.4e-4},{"day":201.97,"flux":3.6e-4},{"day":202.13,"flux":2.4e-4},{"day":202.3,"flux":3.0e-4},{"day":202.46,"flux":2.2e-4},{"day":202.62,"flux":4.4e-4},{"day":202.79,"flux":4.0e-4},{"day":202.95,"flux":5.4e-4},{"day":203.12,"flux":4.8e-4},{"day":203.28,"flux":6.5e-4},{"day":203.44,"flux":5.4e-4},{"day":203.61,"flux":5.9e-4},{"day":203.77,"flux":6.5e-4},{"day":203.93,"flux":5.4e-4},{"day":204.1,"flux":4.8e-4},{"day":204.26,"flux":4.4e-4},{"day":204.42,"flux":3.6e-4},{"day":204.59,"flux":5.4e-4},{"day":204.75,"flux":3.0e-4},{"day":204.92,"flux":6.5e-4},{"day":205.08,"flux":5.4e-4},{"day":205.24,"flux":3.6e-4},{"day":205.41,"flux":2.0e-4},{"day":205.57,"flux":1.6e-4},{"day":205.73,"flux":2.0e-4},{"day":205.9,"flux":1.3e-4},{"day":206.06,"flux":1.6e-4},{"day":206.23,"flux":1.1e-4},{"day":206.39,"flux":7.4e-5},{"day":206.55,"flux":1.6e-4},{"day":206.72,"flux":2.4e-4},{"day":206.88,"flux":1.3e-4},{"day":207.04,"flux":7.4e-5},{"day":207.21,"flux":9.1e-5},{"day":207.37,"flux":1.1e-4},{"day":207.45,"flux":5e-6},{"day":207.5,"flux":5.0e-5},{"day":207.62,"flux":7.4e-5},{"day":207.78,"flux":1.6e-4},{"day":207.95,"flux":1.1e-4},{"day":208.11,"flux":7.4e-5},{"day":208.27,"flux":5.0e-5},{"day":208.44,"flux":1.1e-4},{"day":208.6,"flux":1.6e-4},{"day":208.76,"flux":1.1e-4},{"day":208.93,"flux":7.4e-5},{"day":209.09,"flux":1.6e-4},{"day":209.25,"flux":1.1e-4},{"day":209.42,"flux":7.4e-5},{"day":209.58,"flux":1.1e-4},{"day":209.74,"flux":7.4e-5},{"day":209.91,"flux":9.1e-5},{"day":210.07,"flux":1.1e-4},{"day":210.24,"flux":7.4e-5},{"day":210.4,"flux":5.0e-5},{"day":210.56,"flux":7.4e-5},{"day":210.73,"flux":1.6e-4},{"day":210.89,"flux":1.1e-4},{"day":211.05,"flux":7.4e-5},{"day":211.22,"flux":6.2e-5},{"day":211.38,"flux":7.4e-5},{"day":211.54,"flux":5.0e-5},{"day":211.71,"flux":3.4e-5},{"day":211.87,"flux":5.0e-5},{"day":212.0,"flux":9.1e-5},{"day":212.2,"flux":1.6e-4},{"day":212.36,"flux":7.4e-5},{"day":212.53,"flux":5.0e-5},{"day":212.69,"flux":5.0e-5},{"day":212.85,"flux":3.4e-5},{"day":213.02,"flux":5.0e-5},{"day":213.18,"flux":7.4e-5},{"day":213.35,"flux":5.0e-5},{"day":213.51,"flux":7.4e-5},{"day":213.67,"flux":5.0e-5},{"day":213.84,"flux":3.4e-5},{"day":213.95,"flux":5e-6},{"day":214.03,"flux":1.3e-4},{"day":214.17,"flux":1.6e-4},{"day":214.33,"flux":1.1e-4},{"day":214.5,"flux":7.4e-5},{"day":214.66,"flux":5.0e-5},{"day":214.82,"flux":1.1e-4},{"day":214.98,"flux":7.4e-5},{"day":215.07,"flux":3.4e-5},{"day":215.15,"flux":2.3e-5},{"day":215.2,"flux":null},
      {"day":215.9,"flux":3.4e-5},{"day":215.9,"flux":7.4e-5},{"day":216.1,"flux":3.4e-5}
    ],
    "labels": [
      {"panel":"carbon","band":"a","day":214.1,"flux":0.79,"text":"Carbon: 0.55 - 5.33 MeV/nucl"},
      {"panel":"carbon","band":"b","day":214.1,"flux":0.093,"text":"0.47 - 5.20 MeV/nucl"},
      {"panel":"oxygen","band":"a","day":213.95,"flux":1.17,"text":"Oxygen: 0.57 - 6.05 MeV/nucl"},
      {"panel":"oxygen","band":"b","day":213.95,"flux":0.138,"text":"0.49 - 6.00 MeV/nucl"},
      {"panel":"iron","band":"a","day":212.23,"flux":0.31,"text":"Iron: 0.25 - 8.15 MeV/nucl"},
      {"panel":"iron","band":"b","day":212.23,"flux":0.06,"text":"0.23 - 10.71 MeV/nucl"}
    ]
  },
  "vconcat": [
    {
      "width": 611, "height": 234,
      "layer": [
        {"data": {"name": "carbon_a"}, "mark": {"type": "line", "color": "#4a4ade", "clip": true},
         "encoding": {
           "x": {"field": "day", "type": "quantitative", "scale": {"domain": [187, 217], "nice": false, "zero": false}, "axis": {"orient": "bottom", "values": [187,192,197,202,207,212,217], "tickSize": -9, "labels": false, "title": null}},
           "y": {"field": "flux", "type": "quantitative", "scale": {"type": "log", "domain": [0.00001, 10], "nice": false}, "axis": {"orient": "left", "title": null, "labelOverlap": false}}}},
        {"data": {"name": "carbon_b"}, "mark": {"type": "line", "color": "#e84a4a", "clip": true},
         "encoding": {
           "x": {"field": "day", "type": "quantitative", "scale": {"domain": [187, 217], "nice": false, "zero": false}, "axis": {"orient": "top", "values": [187,188,189,190,191,192,193,194,195,196,197,198,199,200,201,202,203,204,205,206,207,208,209,210,211,212,213,214,215,216,217], "tickSize": {"condition": {"test": "(datum.value - 187) % 5 == 0", "value": -9}, "value": -5}, "labels": false, "title": null}},
           "y": {"field": "flux", "type": "quantitative", "scale": {"type": "log", "domain": [0.00001, 10], "nice": false}, "axis": {"orient": "right", "labels": false, "title": null}}}},
        {"data": {"name": "labels"}, "transform": [{"filter": "datum.panel == 'carbon'"}], "mark": {"type": "text"},
         "encoding": {
           "x": {"field": "day", "type": "quantitative", "scale": {"domain": [187, 217], "nice": false, "zero": false}, "axis": {"orient": "bottom", "values": [188,189,190,191,193,194,195,196,198,199,200,201,203,204,205,206,208,209,210,211,213,214,215,216], "tickSize": -5, "labels": false, "title": null}},
           "y": {"field": "flux", "type": "quantitative", "scale": {"type": "log", "domain": [0.00001, 10], "nice": false}, "axis": null},
           "text": {"field": "text"},
           "color": {"field": "band", "type": "nominal", "scale": {"domain": ["a", "b"], "range": ["#2626c4", "#d42a2a"]}, "legend": null}}}
      ],
      "resolve": {"axis": {"x": "independent", "y": "independent"}}
    },
    {
      "width": 611, "height": 234,
      "layer": [
        {"data": {"name": "oxygen_a"}, "mark": {"type": "line", "color": "#4a4ade", "clip": true},
         "encoding": {
           "x": {"field": "day", "type": "quantitative", "scale": {"domain": [187, 217], "nice": false, "zero": false}, "axis": {"orient": "bottom", "values": [187,192,197,202,207,212,217], "tickSize": -9, "labels": false, "title": null}},
           "y": {"field": "flux", "type": "quantitative", "scale": {"type": "log", "domain": [0.00001, 10], "nice": false}, "axis": {"orient": "left", "labelOverlap": false, "title": "particles / (cm²sec sr (MeV/nuc))", "titleY": 104}}}},
        {"data": {"name": "oxygen_b"}, "mark": {"type": "line", "color": "#e84a4a", "clip": true},
         "encoding": {
           "x": {"field": "day", "type": "quantitative", "scale": {"domain": [187, 217], "nice": false, "zero": false}, "axis": {"orient": "top", "values": [187,188,189,190,191,192,193,194,195,196,197,198,199,200,201,202,203,204,205,206,207,208,209,210,211,212,213,214,215,216,217], "tickSize": {"condition": {"test": "(datum.value - 187) % 5 == 0", "value": -9}, "value": -5}, "labels": false, "title": null}},
           "y": {"field": "flux", "type": "quantitative", "scale": {"type": "log", "domain": [0.00001, 10], "nice": false}, "axis": {"orient": "right", "labels": false, "title": null}}}},
        {"data": {"name": "labels"}, "transform": [{"filter": "datum.panel == 'oxygen'"}], "mark": {"type": "text"},
         "encoding": {
           "x": {"field": "day", "type": "quantitative", "scale": {"domain": [187, 217], "nice": false, "zero": false}, "axis": {"orient": "bottom", "values": [188,189,190,191,193,194,195,196,198,199,200,201,203,204,205,206,208,209,210,211,213,214,215,216], "tickSize": -5, "labels": false, "title": null}},
           "y": {"field": "flux", "type": "quantitative", "scale": {"type": "log", "domain": [0.00001, 10], "nice": false}, "axis": null},
           "text": {"field": "text"},
           "color": {"field": "band", "type": "nominal", "scale": {"domain": ["a", "b"], "range": ["#2626c4", "#d42a2a"]}, "legend": null}}}
      ],
      "resolve": {"axis": {"x": "independent", "y": "independent"}}
    },
    {
      "width": 611, "height": 234,
      "layer": [
        {"data": {"name": "iron_a"}, "mark": {"type": "line", "color": "#4a4ade", "clip": true},
         "encoding": {
           "x": {"field": "day", "type": "quantitative", "scale": {"domain": [187, 217], "nice": false, "zero": false}, "axis": {"orient": "bottom", "values": [187,192,197,202,207,212,217], "tickSize": -9, "labelExpr": "datum.value == 187 ? '00/187' : '' + datum.value", "title": "UT Date", "labelOverlap": false}},
           "y": {"field": "flux", "type": "quantitative", "scale": {"type": "log", "domain": [0.00001, 10], "nice": false}, "axis": {"orient": "left", "title": null, "labelOverlap": false}}}},
        {"data": {"name": "iron_b"}, "mark": {"type": "line", "color": "#e84a4a", "clip": true},
         "encoding": {
           "x": {"field": "day", "type": "quantitative", "scale": {"domain": [187, 217], "nice": false, "zero": false}, "axis": {"orient": "top", "values": [187,188,189,190,191,192,193,194,195,196,197,198,199,200,201,202,203,204,205,206,207,208,209,210,211,212,213,214,215,216,217], "tickSize": {"condition": {"test": "(datum.value - 187) % 5 == 0", "value": -9}, "value": -5}, "labels": false, "title": null}},
           "y": {"field": "flux", "type": "quantitative", "scale": {"type": "log", "domain": [0.00001, 10], "nice": false}, "axis": {"orient": "right", "labels": false, "title": null}}}},
        {"data": {"name": "labels"}, "transform": [{"filter": "datum.panel == 'iron'"}], "mark": {"type": "text"},
         "encoding": {
           "x": {"field": "day", "type": "quantitative", "scale": {"domain": [187, 217], "nice": false, "zero": false}, "axis": {"orient": "bottom", "values": [188,189,190,191,193,194,195,196,198,199,200,201,203,204,205,206,208,209,210,211,213,214,215,216], "tickSize": -5, "labels": false, "title": null}},
           "y": {"field": "flux", "type": "quantitative", "scale": {"type": "log", "domain": [0.00001, 10], "nice": false}, "axis": null},
           "text": {"field": "text"},
           "color": {"field": "band", "type": "nominal", "scale": {"domain": ["a", "b"], "range": ["#2626c4", "#d42a2a"]}, "legend": null}}}
      ],
      "resolve": {"axis": {"x": "independent", "y": "independent"}}
    }
  ]
}
